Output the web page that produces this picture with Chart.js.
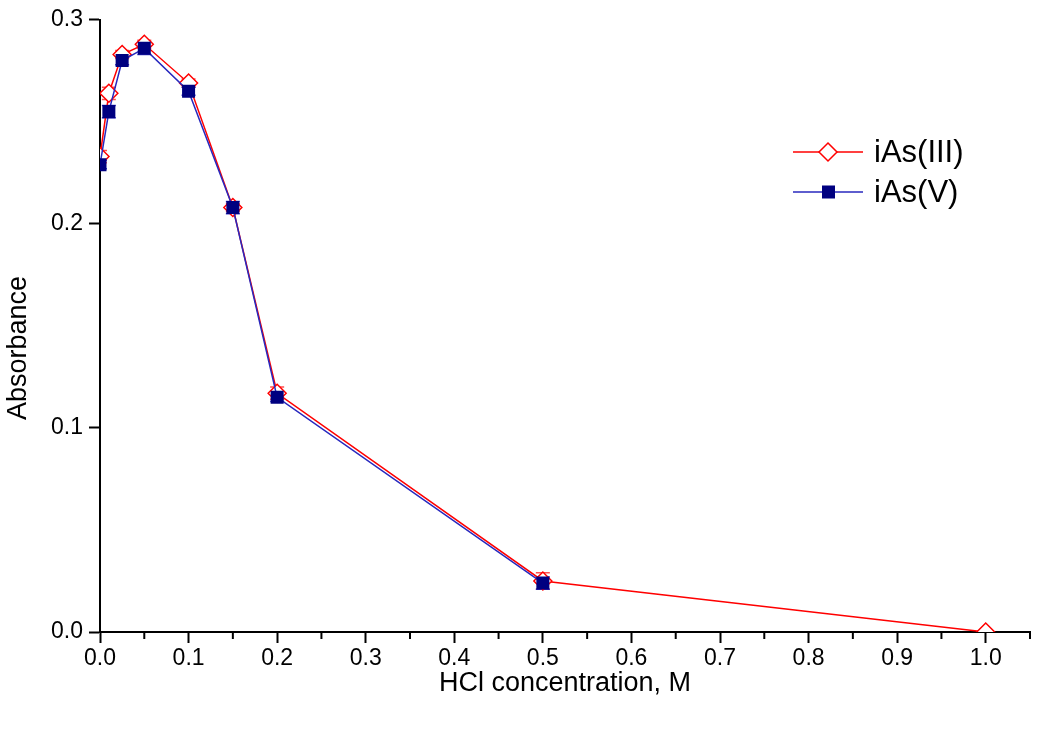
<!DOCTYPE html>
<html>
<head>
<meta charset="utf-8">
<script src="https://cdn.jsdelivr.net/npm/chart.js@4"></script>
<style>
  html, body { margin: 0; padding: 0; background: #fff; }
  #wrap { width: 1050px; height: 732px; }
</style>
</head>
<body>
<div id="wrap"><canvas id="absChart" width="1050" height="732"></canvas></div>
<script>
// HCl concentration (M)
var hcl = [0, 0.01, 0.025, 0.05, 0.1, 0.15, 0.2, 0.5, 1.0];
// absorbance values
var as3 = [0.233, 0.264, 0.283, 0.288, 0.269, 0.208, 0.117, 0.025, 0.0];
var as3Err = [0.003, 0.003, 0.002, 0.002, 0.002, 0.002, 0.003, 0.004, 0];
var as5 = [0.229, 0.255, 0.280, 0.286, 0.265, 0.208, 0.115, 0.024];
var as5Err = [0.002, 0.003, 0.002, 0.003, 0.002, 0.003, 0.002, 0.003];
var xTicks = [0, 0.1, 0.2, 0.3, 0.4, 0.5, 0.6, 0.7, 0.8, 0.9, 1.0];
var xMinor = [0.05, 0.15, 0.25, 0.35, 0.45, 0.55, 0.65, 0.75, 0.85, 0.95, 1.05];
var yTicks = [0, 0.1, 0.2, 0.3];

var FONT = '"Liberation Sans", Arial, sans-serif';
var RED = 'rgb(255, 0, 0)';
var BLUE = 'rgb(0, 0, 128)';
var BLUE_LINE = 'rgb(40, 40, 190)';

function toPoints(xs, ys) {
  return ys.map(function(y, i) { return {x: xs[i], y: y}; });
}

// error bars + minor ticks + y title + legend
var extras = {
  id: 'extras',
  beforeDatasetsDraw: function(chart) {
    var ctx = chart.ctx, xs = chart.scales.x, ys = chart.scales.y, a = chart.chartArea;
    var sets = [
      {vals: as3, err: as3Err, color: 'rgba(255, 60, 60, 0.9)'},
      {vals: as5, err: as5Err, color: 'rgba(40, 40, 200, 0.9)'}
    ];
    ctx.save();
    ctx.beginPath();
    ctx.rect(a.left, a.top, a.right - a.left, a.bottom - a.top);
    ctx.clip();
    sets.forEach(function(s) {
      ctx.strokeStyle = s.color;
      ctx.lineWidth = 1.5;
      s.vals.forEach(function(v, i) {
        if (!s.err[i]) return;
        var px = xs.getPixelForValue(hcl[i]);
        var top = ys.getPixelForValue(v + s.err[i]);
        var bot = ys.getPixelForValue(v - s.err[i]);
        ctx.beginPath();
        ctx.moveTo(px, top); ctx.lineTo(px, bot);
        ctx.moveTo(px - 7, top); ctx.lineTo(px + 7, top);
        ctx.moveTo(px - 7, bot); ctx.lineTo(px + 7, bot);
        ctx.stroke();
      });
    });
    ctx.restore();
  },
  afterDraw: function(chart) {
    var ctx = chart.ctx, xs = chart.scales.x, a = chart.chartArea;
    ctx.save();
    // minor ticks on x
    ctx.strokeStyle = '#000';
    ctx.lineWidth = 2;
    xMinor.forEach(function(v) {
      var px = xs.getPixelForValue(v);
      ctx.beginPath();
      ctx.moveTo(px, a.bottom);
      ctx.lineTo(px, a.bottom + 7);
      ctx.stroke();
    });
    // y title
    ctx.fillStyle = '#000';
    ctx.font = '27px ' + FONT;
    ctx.textAlign = 'center';
    ctx.textBaseline = 'middle';
    ctx.translate(19, 348);
    ctx.rotate(-Math.PI / 2);
    ctx.fillText('Absorbance', 0, 0);
    ctx.restore();

    // legend
    var items = [
      {label: 'iAs(III)', color: RED, y: 152, style: 'diamond'},
      {label: 'iAs(V)', color: BLUE_LINE, y: 192, style: 'square'}
    ];
    ctx.save();
    items.forEach(function(it) {
      ctx.strokeStyle = it.color;
      ctx.lineWidth = 1.5;
      ctx.beginPath();
      ctx.moveTo(793, it.y); ctx.lineTo(863, it.y);
      ctx.stroke();
      if (it.style === 'diamond') {
        ctx.fillStyle = '#fff';
        ctx.strokeStyle = RED;
        ctx.beginPath();
        ctx.moveTo(828, it.y - 9); ctx.lineTo(837, it.y);
        ctx.lineTo(828, it.y + 9); ctx.lineTo(819, it.y);
        ctx.closePath();
        ctx.fill(); ctx.stroke();
      } else {
        ctx.fillStyle = BLUE;
        ctx.fillRect(822, it.y - 6.5, 13, 13);
      }
      ctx.fillStyle = '#000';
      ctx.font = '31px ' + FONT;
      ctx.textAlign = 'left';
      ctx.textBaseline = 'middle';
      ctx.fillText(it.label, 874, it.y + 1);
    });
    ctx.restore();
  }
};

var config = {
  type: 'scatter',
  data: {
    datasets: [{
      label: 'iAs(V)',
      data: toPoints(hcl, as5),
      showLine: true,
      borderColor: BLUE_LINE,
      borderWidth: 1.5,
      backgroundColor: BLUE,
      pointStyle: 'rect',
      pointRadius: 9.2,
      pointBorderWidth: 0,
      pointBackgroundColor: BLUE,
      lineTension: 0,
      clip: 0,
      order: 1
    }, {
      label: 'iAs(III)',
      data: toPoints(hcl, as3),
      showLine: true,
      borderColor: RED,
      borderWidth: 1.5,
      pointStyle: 'rectRot',
      pointRadius: 9,
      pointBorderWidth: 1.5,
      pointBorderColor: RED,
      pointBackgroundColor: '#fff',
      lineTension: 0,
      clip: 0,
      order: 2
    }]
  },
  options: {
    responsive: false,
    animation: false,
    events: [],
    layout: { padding: { left: 0, right: 20, top: 18, bottom: 32 } },
    plugins: { legend: { display: false }, tooltip: { enabled: false } },
    scales: {
      x: {
        type: 'linear',
        min: 0, max: 1.05,
        afterBuildTicks: function(scale) {
          scale.ticks = xTicks.map(function(v) { return {value: v}; });
        },
        afterFit: function(scale) { scale.height = 68; },
        grid: { drawOnChartArea: false, drawTicks: true, tickLength: 11, tickColor: '#000', tickWidth: 2 },
        border: { color: '#000', width: 2 },
        ticks: {
          color: '#000', padding: 2, maxRotation: 0, autoSkip: false,
          font: { family: FONT, size: 23 },
          callback: function(v) { return v.toFixed(1); }
        },
        title: {
          display: true, text: 'HCl concentration, M', color: '#000',
          font: { family: FONT, size: 27 }, padding: { top: 4, bottom: 0 }
        }
      },
      y: {
        type: 'linear',
        min: 0, max: 0.3,
        afterBuildTicks: function(scale) {
          scale.ticks = yTicks.map(function(v) { return {value: v}; });
        },
        afterFit: function(scale) { scale.width = 100; },
        grid: { drawOnChartArea: false, drawTicks: true, tickLength: 11, tickColor: '#000', tickWidth: 2 },
        border: { color: '#000', width: 2 },
        ticks: {
          color: '#000', padding: 6,
          font: { family: FONT, size: 23 },
          callback: function(v) { return v.toFixed(1); }
        }
      }
    }
  },
  plugins: [extras]
};

window.chart = new Chart(document.getElementById('absChart').getContext('2d'), config);
</script>
</body>
</html>
